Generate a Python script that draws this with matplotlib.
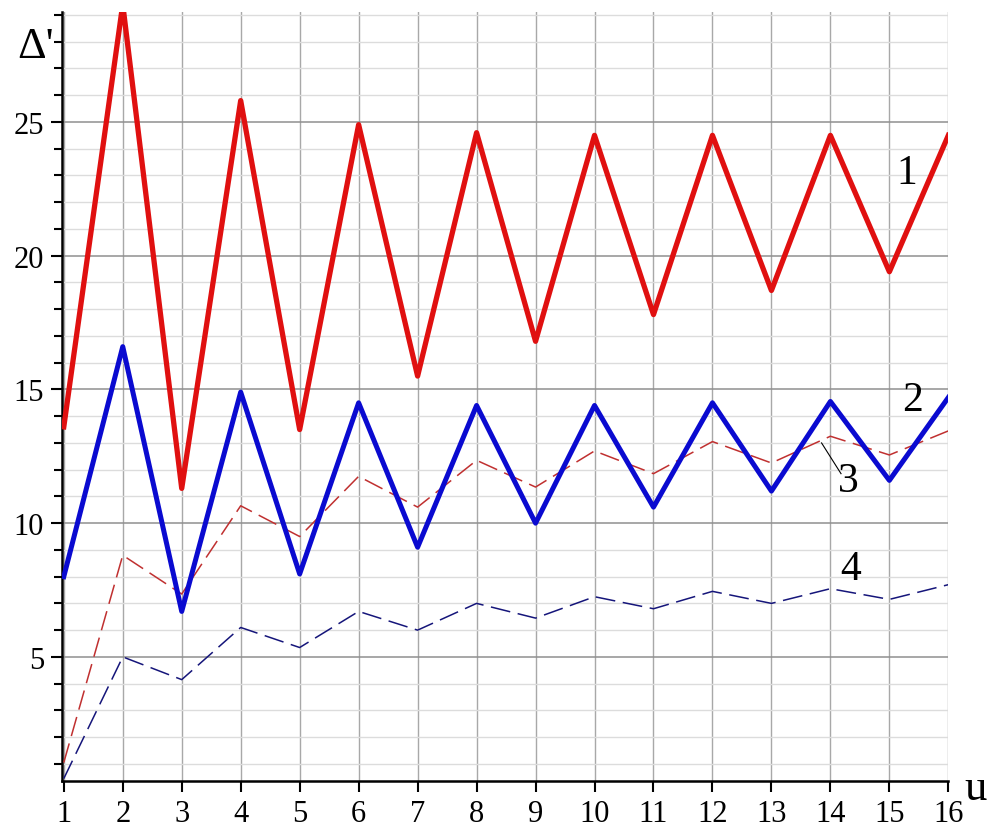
import matplotlib
matplotlib.use("Agg")
import matplotlib.pyplot as plt
from matplotlib.ticker import MultipleLocator

plt.rcParams['font.family'] = ['Liberation Serif', 'DejaVu Serif']

u = list(range(1, 17))
# curve 1 (thick red) and curve 2 (thick blue)
d1 = [13.6, 29.4, 11.3, 25.8, 13.5, 24.9, 15.5, 24.6, 16.8, 24.5, 17.8, 24.5, 18.7, 24.5, 19.4, 24.5]
d2 = [8.0, 16.6, 6.7, 14.9, 8.1, 14.5, 9.1, 14.4, 10.0, 14.4, 10.6, 14.5, 11.2, 14.55, 11.6, 14.7]
# curve 3 (dashed red) and curve 4 (dashed blue)
d3 = [1.05, 8.8, 7.35, 10.65, 9.5, 11.75, 10.6, 12.35, 11.35, 12.7, 11.85, 13.05, 12.25, 13.25, 12.55, 13.45]
d4 = [0.45, 5.0, 4.15, 6.1, 5.35, 6.7, 6.0, 7.0, 6.45, 7.25, 6.8, 7.45, 7.0, 7.55, 7.15, 7.7]

fig = plt.figure(figsize=(9.97, 8.28), dpi=100)
ax = fig.add_axes([0.0622, 0.0559, 0.889, 0.928])

ax.plot(u, d1, color='#e01010', lw=3.8, solid_joinstyle='round', zorder=4)
ax.plot(u, d2, color='#0a0ad0', lw=3.6, solid_joinstyle='round', zorder=4)
ax.plot(u, d3, color='#c03030', lw=1.1, dashes=(13, 5), zorder=3)
ax.plot(u, d4, color='#15157a', lw=1.1, dashes=(13, 5), zorder=3)

ax.set_xlim(0.97, 16)
ax.set_ylim(0.37, 29.1)

ax.xaxis.set_major_locator(MultipleLocator(1))
ax.yaxis.set_major_locator(MultipleLocator(5))
ax.yaxis.set_minor_locator(MultipleLocator(1))

ax.grid(axis='x', which='major', color='#a8a8a8', lw=1.0)
ax.grid(axis='y', which='major', color='#909090', lw=1.1)
ax.grid(axis='y', which='minor', color='#dcdcdc', lw=1.0)
ax.set_axisbelow(True)

for s in ['top', 'right']:
    ax.spines[s].set_visible(False)
for s in ['left', 'bottom']:
    ax.spines[s].set_linewidth(1.8)

ax.tick_params(axis='both', which='major', direction='out', length=8, width=1.5, labelsize=22)
ax.tick_params(axis='y', which='minor', direction='out', length=6, width=1.5)
ax.tick_params(axis='x', pad=5)
ax.tick_params(axis='y', pad=5)

# curve labels
ax.text(15.3, 23.1, '1', fontsize=30, ha='center', va='center')
ax.text(15.4, 14.6, '2', fontsize=30, ha='center', va='center')
ax.text(14.3, 11.6, '3', fontsize=30, ha='center', va='center')
ax.text(14.35, 8.3, '4', fontsize=30, ha='center', va='center')
ax.plot([13.85, 14.18], [13.0, 11.85], color='black', lw=0.8, zorder=5)

# axis names
fig.text(0.036, 0.943, "Δ'", fontsize=32, ha='center', va='center')
fig.text(0.978, 0.047, 'u', fontsize=32, ha='center', va='center')

fig.savefig('out.png', dpi=100)
